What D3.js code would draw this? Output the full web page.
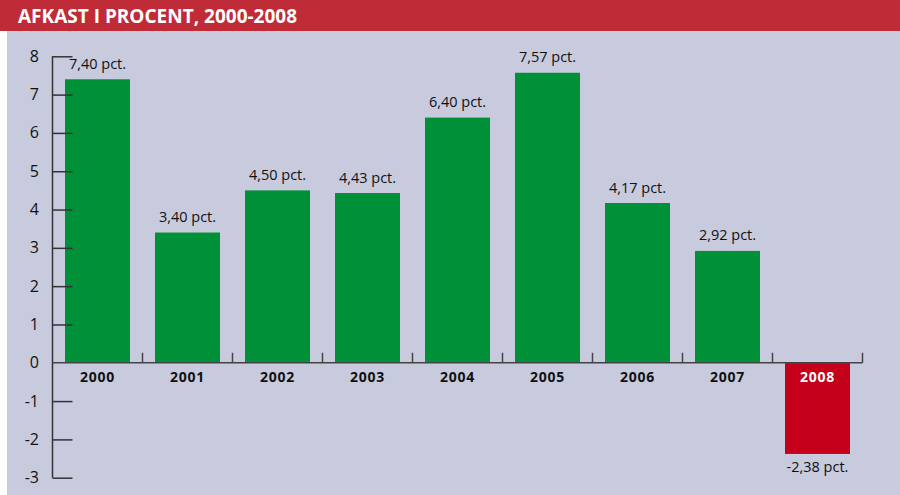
<!DOCTYPE html>
<html>
<head>
<meta charset="utf-8">
<script src="https://cdn.jsdelivr.net/npm/d3@7"></script>
<style>
  body { margin: 0; background: #fff; }
  svg { display: block; font-family: "Open Sans", "DejaVu Sans", sans-serif; }
</style>
</head>
<body>
<svg id="chart" width="900" height="495"></svg>
<script>
// data
const years = ["2000", "2001", "2002", "2003", "2004", "2005", "2006", "2007", "2008"];
const afkast = [7.40, 3.40, 4.50, 4.43, 6.40, 7.57, 4.17, 2.92, -2.38];
const yTicks = [-3, -2, -1, 0, 1, 2, 3, 4, 5, 6, 7, 8];

const data = years.map((y, i) => ({ year: y, value: afkast[i] }));

const svg = d3.select("#chart");
const W = 900, H = 495;

// baggrund
svg.append("rect").attr("x", 7).attr("y", 0).attr("width", W - 7).attr("height", H)
  .attr("fill", "#c7cbdd");
svg.append("rect").attr("x", 0).attr("y", 0).attr("width", W).attr("height", 31)
  .attr("fill", "#bf2b36");
svg.append("text")
  .attr("x", 18).attr("y", 23)
  .attr("fill", "#fff")
  .attr("font-size", "19px")
  .attr("font-weight", "bold")
  .text("AFKAST I PROCENT, 2000-2008");

const x = d3.scaleBand()
  .domain(years)
  .range([52.5, 862.5])
  .paddingInner(25 / 90)
  .paddingOuter(12.5 / 90);

const y = d3.scaleLinear()
  .domain([-3, 8])
  .range([477.7, 56.3]);

const step = x.step();

// søjler
svg.append("g")
  .selectAll("rect")
  .data(data)
  .enter().append("rect")
  .attr("x", d => x(d.year))
  .attr("y", d => y(Math.max(0, d.value)))
  .attr("width", x.bandwidth())
  .attr("height", d => Math.abs(y(d.value) - y(0)))
  .attr("fill", d => d.value < 0 ? "#c4001a" : "#009038");

// y-akse
const yAxis = svg.append("g")
  .attr("transform", "translate(52.5,0)")
  .call(d3.axisRight(y).tickValues(yTicks).tickSize(20).tickFormat(""));
yAxis.select(".domain").attr("stroke", "#333").attr("stroke-width", 1.5)
  .attr("d", `M0,${y(8)}V${y(-3)}`);
yAxis.selectAll(".tick line").attr("stroke", "#333").attr("stroke-width", 1.5);
yAxis.selectAll(".tick").filter(d => d === 0).remove();

svg.append("g")
  .selectAll("text")
  .data(yTicks)
  .enter().append("text")
  .attr("x", 39)
  .attr("y", d => y(d) + 5.5)
  .attr("text-anchor", "end")
  .attr("font-size", "16px")
  .attr("fill", "#111")
  .text(d => d);

// nul-linje med skillestreger
const x0 = svg.append("g");
x0.append("line")
  .attr("x1", 52.5).attr("x2", 862.5)
  .attr("y1", y(0)).attr("y2", y(0))
  .attr("stroke", "#444").attr("stroke-width", 1.5);
x0.selectAll(".div")
  .data(years.slice(1).concat(["end"]))
  .enter().append("line")
  .attr("x1", (d, i) => x(years[i]) + x.bandwidth() + step * x.paddingInner() / 2)
  .attr("x2", (d, i) => x(years[i]) + x.bandwidth() + step * x.paddingInner() / 2)
  .attr("y1", y(0) - 10).attr("y2", y(0))
  .attr("stroke", "#444").attr("stroke-width", 1.5);

// årstal
svg.append("g")
  .selectAll("text")
  .data(data)
  .enter().append("text")
  .attr("x", d => x(d.year) + x.bandwidth() / 2)
  .attr("y", y(0) + 19)
  .attr("text-anchor", "middle")
  .attr("font-size", "14px")
  .attr("font-weight", "bold")
  .attr("letter-spacing", "0.8px")
  .attr("fill", d => d.value < 0 ? "#fff" : "#111")
  .text(d => d.year);

// værdier
svg.append("g")
  .selectAll("text")
  .data(data)
  .enter().append("text")
  .attr("x", d => x(d.year) + x.bandwidth() / 2)
  .attr("y", d => d.value < 0 ? y(d.value) + 18 : y(d.value) - 10.5)
  .attr("text-anchor", "middle")
  .attr("font-size", "14.5px")
  .attr("fill", "#111")
  .text(d => d.value.toFixed(2).replace(".", ",") + " pct.");
</script>
</body>
</html>
